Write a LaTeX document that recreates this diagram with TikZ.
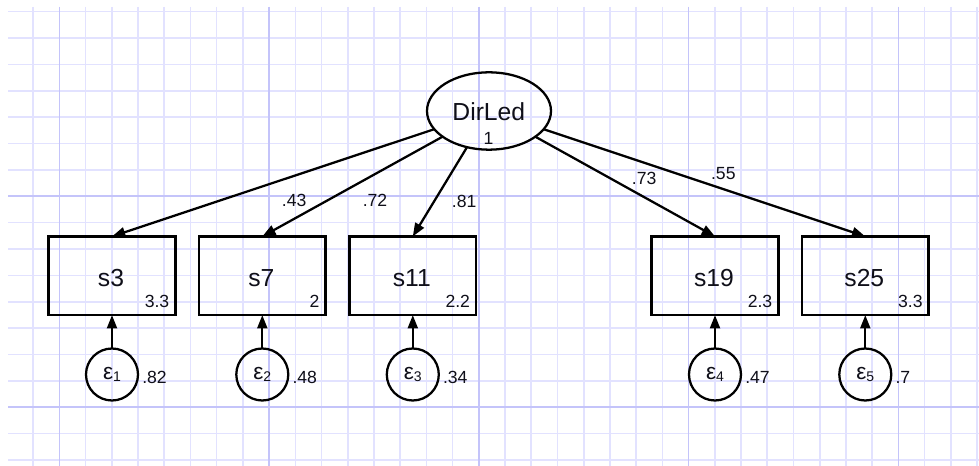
\documentclass[tikz,border=0pt]{standalone}
\usepackage{fontspec}
\setmainfont{Liberation Sans}
\usetikzlibrary{arrows.meta,shapes.geometric}
\definecolor{gridminor}{RGB}{226,226,255}
\definecolor{gridmajor}{RGB}{196,196,250}
\definecolor{txt}{RGB}{15,15,25}
\begin{document}
\begin{tikzpicture}[x=0.75pt,y=-0.75pt,
  minorline/.style={draw=gridminor, line width=1.2pt},
  majorline/.style={draw=gridmajor, line width=1.2pt},
  latent/.style={ellipse, draw, line width=1.7pt, minimum width=93pt, minimum height=58pt, inner sep=0pt, outer sep=0pt},
  obs/.style={rectangle, draw, line width=1.8pt, minimum width=95pt, minimum height=59pt, inner sep=0pt, outer sep=0pt},
  err/.style={circle, draw, line width=1.7pt, minimum size=39pt, inner sep=0pt, outer sep=0pt},
  mainlbl/.style={text=txt, font=\fontsize{18.5pt}{20pt}\selectfont, inner sep=0pt},
  smalllbl/.style={text=txt, font=\fontsize{13.2pt}{15pt}\selectfont, inner sep=0pt},
  epslbl/.style={text=txt, inner sep=0pt},
  arr/.style={-{Triangle[length=10pt,width=7.5pt]}, line width=1.7pt},
]
\useasboundingbox (0,0) rectangle (979,466);
\fill[white] (0,0) rectangle (979,466);
% grid
\foreach \k in {0,...,36} {\pgfmathsetmacro\gx{33.1+26.22*\k}\draw[minorline] (\gx,7) -- (\gx,466);}
\foreach \k in {0,...,17} {\pgfmathsetmacro\gy{11.7+26.37*\k}\draw[minorline] (8,\gy) -- (979,\gy);}
\foreach \k in {1,9,17,25,33} {\pgfmathsetmacro\gx{33.1+26.22*\k}\draw[majorline] (\gx,7) -- (\gx,466);}
\foreach \k in {7,15} {\pgfmathsetmacro\gy{11.7+26.37*\k}\draw[majorline] (8,\gy) -- (979,\gy);}

% latent
\node[latent] (DirLed) at (489,111) {};
\node[mainlbl] (DirLedT) at (488.8,111.3) {DirLed};
\node[smalllbl] (DirLedV) at (488.5,138) {1};

% observed boxes
\node[obs] (s3) at (112,275.8) {};
\node[obs] (s7) at (262.3,275.8) {};
\node[obs] (s11) at (412.8,275.8) {};
\node[obs] (s19) at (715,275.8) {};
\node[obs] (s25) at (865.3,275.8) {};

\node[mainlbl] (s3T) at (111,278) {s3};
\node[mainlbl] (s7T) at (261.3,278) {s7};
\node[mainlbl] (s11T) at (411.8,278) {s11};
\node[mainlbl] (s19T) at (714,278) {s19};
\node[mainlbl] (s25T) at (864.3,278) {s25};

\node[smalllbl, anchor=east] (s3V) at (169.5,301.7) {3.3};
\node[smalllbl, anchor=east] (s7V) at (319.8,301.7) {2};
\node[smalllbl, anchor=east] (s11V) at (470.3,301.7) {2.2};
\node[smalllbl, anchor=east] (s19V) at (772.5,301.7) {2.3};
\node[smalllbl, anchor=east] (s25V) at (922.8,301.7) {3.3};

% error terms
\node[err] (e1) at (112,374.5) {};
\node[err] (e2) at (262.3,374.5) {};
\node[err] (e3) at (412.8,374.5) {};
\node[err] (e4) at (715,374.5) {};
\node[err] (e5) at (865.3,374.5) {};

\foreach \n/\x in {1/112,2/262.3,3/412.8,4/715,5/865.3}{
  \node[epslbl] (e\n T) at (\x,374.5) {\fontsize{17pt}{18pt}\selectfont ε\raisebox{-1.6pt}{\fontsize{10.5pt}{12pt}\selectfont\n}};
}

\node[smalllbl, anchor=west] (e1V) at (142,377.5) {.82};
\node[smalllbl, anchor=west] (e2V) at (292.3,377.5) {.48};
\node[smalllbl, anchor=west] (e3V) at (442.8,377.5) {.34};
\node[smalllbl, anchor=west] (e4V) at (745,377.5) {.47};
\node[smalllbl, anchor=west] (e5V) at (895.3,377.5) {.7};

% loadings
\draw[arr] (DirLed) -- (s3.north);
\draw[arr] (DirLed) -- (s7.north);
\draw[arr] (DirLed) -- (s11.north);
\draw[arr] (DirLed) -- (s19.north);
\draw[arr] (DirLed) -- (s25.north);

\node[smalllbl] (l1) at (294.2,200.8) {.43};
\node[smalllbl] (l2) at (375,200.8) {.72};
\node[smalllbl] (l3) at (464.2,201.7) {.81};
\node[smalllbl] (l4) at (644.2,178.3) {.73};
\node[smalllbl] (l5) at (723.3,173.3) {.55};

% error paths
\draw[arr] (e1) -- (s3.south);
\draw[arr] (e2) -- (s7.south);
\draw[arr] (e3) -- (s11.south);
\draw[arr] (e4) -- (s19.south);
\draw[arr] (e5) -- (s25.south);
\end{tikzpicture}
\end{document}
